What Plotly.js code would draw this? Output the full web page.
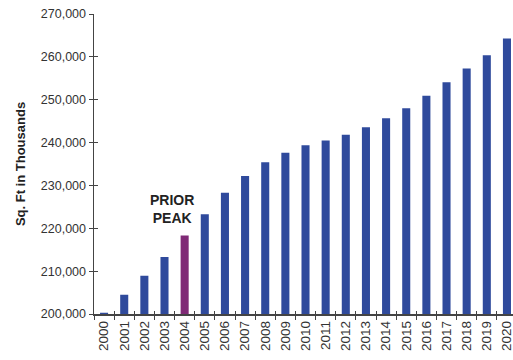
<!DOCTYPE html>
<html>
<head>
<meta charset="utf-8">
<script src="https://cdn.plot.ly/plotly-3.0.1.min.js"></script>
<style>html,body{margin:0;padding:0;background:#fff;overflow:hidden}</style>
</head>
<body>
<div id="chart" style="width:513px;height:360px"></div>
<script>
const years = ['2000','2001','2002','2003','2004','2005','2006','2007','2008','2009','2010',
  '2011','2012','2013','2014','2015','2016','2017','2018','2019','2020'];
const sqft = [200300, 204500, 208900, 213300, 218300, 223300, 228300, 232200, 235400, 237600, 239400,
  240500, 241800, 243600, 245700, 248000, 250900, 254100, 257300, 260400, 264300];
const peakYear = '2004';
const peakLabel = 'PRIOR<br>PEAK';
const yTicks = [200000, 210000, 220000, 230000, 240000, 250000, 260000, 270000];
const yTickText = ['200,000','210,000','220,000','230,000','240,000','250,000','260,000','270,000'];

const blue = '#2F4A9C', purple = '#802A76';
const colors = years.map(y => y === peakYear ? purple : blue);

const traces = [
  {type:'bar', x: years, y: sqft, marker:{color: colors}, width: 0.4, hoverinfo:'skip'},
  {type:'bar', x: years, y: sqft, xaxis:'x2', yaxis:'y2', width:0.4,
   marker:{color:'rgba(0,0,0,0)'}, hoverinfo:'skip', showlegend:false}
];

const fam = 'Liberation Sans, Arial, sans-serif';
const font = {family: fam, size:12, color:'#333'};
const xr = [-0.5, 20.3], yr = [200000, 270000];
const layout = {
  width:513, height:360,
  margin:{l:94, r:0, t:14, b:46},
  paper_bgcolor:'#fff', plot_bgcolor:'#fff',
  showlegend:false,
  font: font,
  xaxis:{type:'category', range: xr, tickson:'boundaries', ticks:'outside', ticklen:4,
    tickcolor:'#444', tickwidth:1, showline:true, linecolor:'#444', linewidth:1.5,
    showgrid:false, tickangle:-90, tickfont:{family: fam, size:13.5, color:'#333'}, zeroline:false},
  yaxis:{range: yr, tickvals: yTicks, ticktext: yTickText, ticks:'outside', ticklen:4,
    tickcolor:'#444', tickwidth:1, showline:true, linecolor:'#444', linewidth:1.5,
    showgrid:false, zeroline:false, tickfont:{family: fam, size:12.5, color:'#333'},
    title:{text:'<b>Sq. Ft in Thousands</b>', font:{family: fam, size:13, color:'#222'}, standoff:12}},
  xaxis2:{type:'category', overlaying:'x', range: xr, tickson:'boundaries', ticks:'inside', ticklen:3,
    tickcolor:'#444', tickwidth:1, showticklabels:false, showgrid:false, zeroline:false, showline:false},
  yaxis2:{overlaying:'y', range: yr, tickvals: yTicks, ticks:'inside', ticklen:4,
    tickcolor:'#444', tickwidth:1, showticklabels:false, showgrid:false, zeroline:false, showline:false},
  annotations:[{x: years.indexOf(peakYear), y: 224500, xref:'x', yref:'y', xshift:-13,
    text:'<b>' + peakLabel + '</b>', showarrow:false, align:'center',
    font:{family: fam, size:14, color:'#222'}}]
};
Plotly.newPlot('chart', traces, layout, {displayModeBar:false, staticPlot:true});
</script>
</body>
</html>
